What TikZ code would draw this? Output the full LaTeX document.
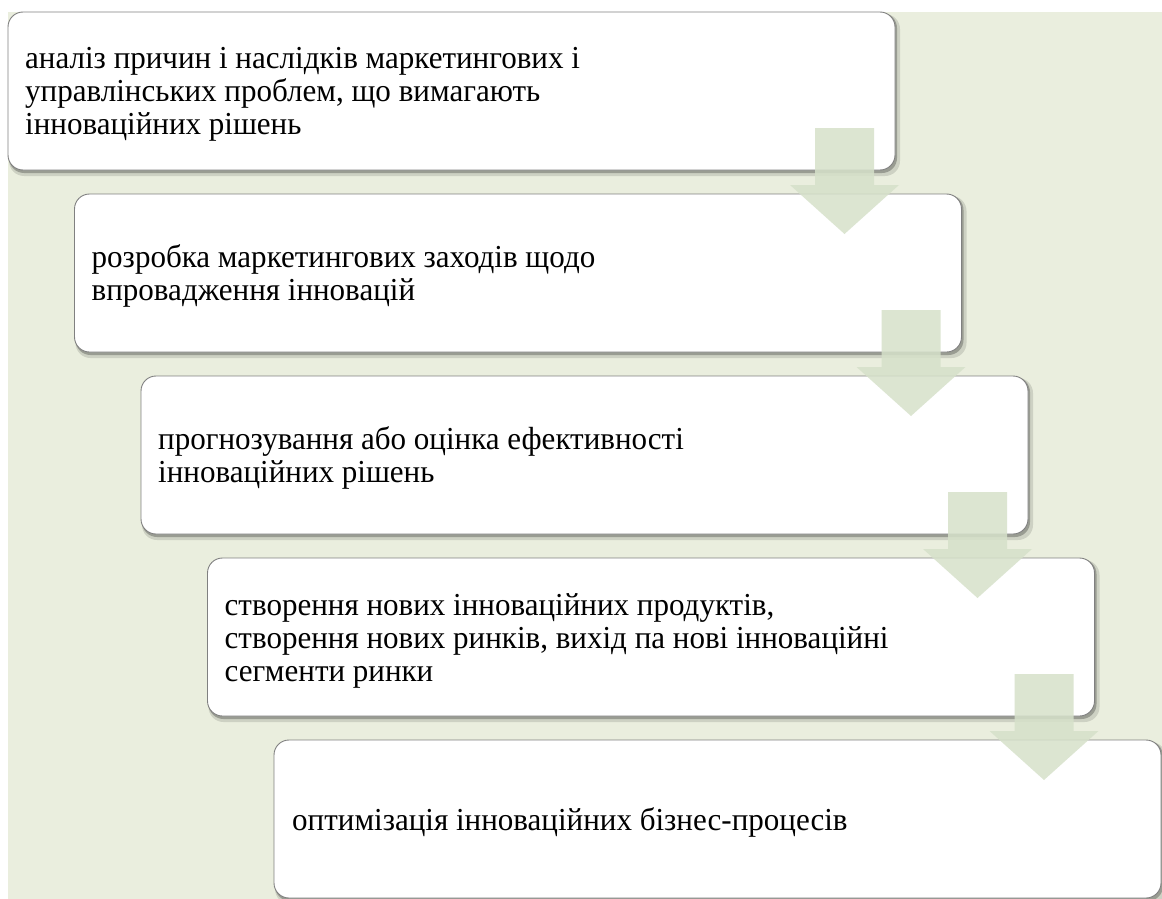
\documentclass[tikz,border=0pt]{standalone}
\usepackage{fontspec}
\setmainfont{Liberation Serif}[FakeStretch=0.97]
\begin{document}
\begin{tikzpicture}[x=1pt,y=-1pt,
  boxshape/.style={draw=black!50, line width=0.9pt, fill=white, rounded corners=15pt},
  shad/.style={fill=black, rounded corners=15pt},
  arrowshape/.style={fill=arrowgreen, fill opacity=0.85, draw=none},
  label/.style={anchor=base west, inner sep=0pt, font=\fontsize{32}{33}\selectfont, text=black}]
\definecolor{bggreen}{HTML}{EAEEDE}
\definecolor{arrowgreen}{HTML}{D6E1CA}
\useasboundingbox (0,0) rectangle (1162,899);
\fill[bggreen] (8,12) rectangle (1162,899);
% shadows and boxes
\foreach \i in {0,...,4}{
  \pgfmathsetmacro{\xl}{8+66.5*\i}
  \pgfmathsetmacro{\yt}{12+182*\i}
  \fill[shad, opacity=0.12] (\xl+1,\yt+2) rectangle ++(891,162);
  \fill[shad, opacity=0.25] (\xl+1,\yt+1) rectangle ++(888,160);
}
\foreach \i/\n in {0/b1,1/b2,2/b3,3/b4,4/b5}{
  \pgfmathsetmacro{\xl}{8+66.5*\i}
  \pgfmathsetmacro{\yt}{12+182*\i}
  \draw[boxshape] (\xl,\yt) rectangle ++(887,158);
  \coordinate (\n) at (\xl,\yt+79);
}
\node[label] (t1) at ([xshift=17pt,yshift=22pt]b1) {\begin{tabular}[t]{@{}l@{}}аналіз причин і наслідків маркетингових і\\управлінських проблем, що вимагають\\інноваційних рішень\end{tabular}};
\node[label] (t2) at ([xshift=17pt,yshift=5.5pt]b2) {\begin{tabular}[t]{@{}l@{}}розробка маркетингових заходів щодо\\впровадження інновацій\end{tabular}};
\node[label] (t3) at ([xshift=17pt,yshift=5.5pt]b3) {\begin{tabular}[t]{@{}l@{}}прогнозування або оцінка ефективності\\інноваційних рішень\end{tabular}};
\node[label] (t4) at ([xshift=17pt,yshift=22pt]b4) {\begin{tabular}[t]{@{}l@{}}створення нових інноваційних продуктів,\\створення нових ринків, вихід па нові інноваційні\\сегменти ринки\end{tabular}};
\node[label] (t5) at ([xshift=18pt,yshift=-11pt]b5) {\begin{tabular}[t]{@{}l@{}}оптимізація інноваційних бізнес-процесів\end{tabular}};
% arrows
\foreach \i in {0,...,3}{
  \pgfmathsetmacro{\ax}{844.5+66.5*\i}
  \pgfmathsetmacro{\ay}{128+182*\i}
  \fill[arrowshape] (\ax-29.5,\ay) -- (\ax+29.5,\ay) -- (\ax+29.5,\ay+57) -- (\ax+54.5,\ay+57)
    -- (\ax,\ay+106) -- (\ax-54.5,\ay+57) -- (\ax-29.5,\ay+57) -- cycle;
}
\end{tikzpicture}
\end{document}
